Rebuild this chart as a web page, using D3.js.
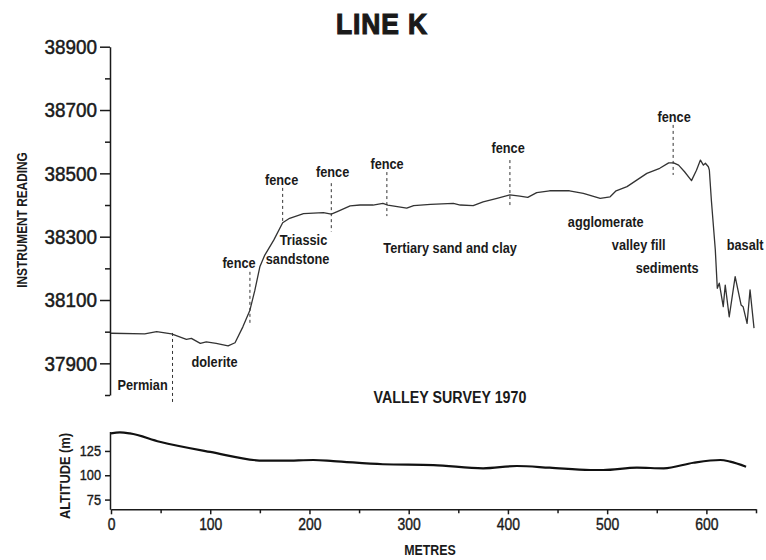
<!DOCTYPE html>
<html>
<head>
<meta charset="utf-8">
<script src="https://cdn.jsdelivr.net/npm/d3@7"></script>
<style>
  html, body { margin: 0; padding: 0; background: #ffffff; }
  svg { display: block; }
  text { font-family: "Liberation Sans", Arial, sans-serif; fill: #1a1a1a; }
</style>
</head>
<body>
<svg id="chart" width="766" height="560"></svg>
<script>
// ---------------- DATA ----------------
// Magnetometer reading along Line K (metres, instrument reading)
const readingMetres = [0, 34, 46, 61, 76, 81, 90, 96, 106, 118, 125, 133, 140, 145, 150, 155, 164, 173, 180, 194, 214, 222, 228, 241, 251, 264, 274, 279, 298, 305, 322, 345, 352, 365, 375, 389, 402, 412, 420, 429, 442, 462, 476, 493, 503, 509, 520, 540, 553, 562, 567, 572, 578, 585, 590, 594, 597, 599, 602, 603, 605, 609, 611, 613, 617, 619, 623, 629, 635, 637, 641, 644, 648];
const readingValues = [37995, 37993, 38000, 37993, 37976, 37979, 37963, 37968, 37963, 37955, 37965, 38016, 38068, 38131, 38205, 38242, 38289, 38344, 38358, 38373, 38376, 38371, 38379, 38397, 38400, 38400, 38405, 38400, 38390, 38398, 38402, 38405, 38400, 38398, 38410, 38421, 38432, 38428, 38424, 38439, 38445, 38445, 38437, 38421, 38426, 38445, 38458, 38500, 38516, 38533, 38533, 38526, 38505, 38477, 38510, 38542, 38526, 38532, 38521, 38510, 38416, 38258, 38137, 38153, 38079, 38147, 38047, 38174, 38084, 38079, 38026, 38132, 38011];

// Ground altitude profile (metres, altitude m)
const altitudeMetres = [0, 9, 19, 49, 100, 154, 174, 204, 224, 274, 325, 375, 409, 442, 483, 496, 530, 557, 587, 614, 624, 640];
const altitudeValues = [143, 144, 143, 134.5, 124, 115, 115, 115.7, 114.6, 111.3, 110.5, 107.1, 109.5, 107.8, 105.4, 105.4, 107.8, 107.1, 112.9, 115.7, 114, 108.8];

// Boundary / fence markers (metres, top and bottom reading of dashed line)
const markerMetres = [62, 140, 173, 222, 278, 402, 566.5];
const markerTop    = [37996, 38189, 38454, 38469, 38504, 38542, 38653];
const markerBottom = [37775, 38027, 38344, 38316, 38365, 38394, 38495];

// Annotation labels (text, metres, reading at baseline)
const labelTexts  = ["Permian", "dolerite", "fence", "Triassic", "sandstone", "fence", "fence", "fence", "Tertiary sand and clay", "fence", "agglomerate", "valley fill", "sediments", "fence", "basalt"];
const labelMetres = [31.8, 104.3, 129, 194, 188, 171.9, 223.3, 278.2, 341.7, 400.2, 498.5, 531.8, 560.5, 567.5, 639];
const labelValues = [37816, 37889, 38201, 38274, 38213, 38463, 38489, 38515, 38248, 38565, 38330, 38258, 38186, 38662, 38258];

// Tick values
const readingMajorTicks = [37900, 38100, 38300, 38500, 38700, 38900];
const readingMinorTicks = [37800, 38000, 38200, 38400, 38600, 38800];
const altitudeTicks = [75, 100, 125];
const metreMajorTicks = [0, 100, 200, 300, 400, 500, 600];
const metreMinorTicks = [50, 150, 250, 350, 450, 550, 650];

// ---------------- CHART ----------------
const svg = d3.select("#chart");

const x = d3.scaleLinear().domain([0, 650]).range([111, 756]);
const yTop = d3.scaleLinear().domain([37800, 38900]).range([395, 46.7]);
const yBot = d3.scaleLinear().domain([65, 145]).range([509.3, 431.5]);

// condensed-type helper: squeeze glyphs horizontally around their anchor
function placeText(sel, X, Y, sx, rot) {
  sel.attr("x", 0).attr("y", 0)
     .attr("transform", `translate(${X},${Y})` + (rot ? ` rotate(${rot})` : "") + ` scale(${sx},1)`);
  return sel;
}
function narrowAxisText(g, sx) {
  g.selectAll("text").each(function () {
    const t = d3.select(this);
    const xv = +t.attr("x") || 0;
    t.attr("x", xv / sx).attr("transform", `scale(${sx},1)`);
  });
}

// Title
placeText(svg.append("text"), 382, 33.5, 0.88)
  .attr("text-anchor", "middle")
  .style("font-size", "30px").style("font-weight", "bold")
  .attr("stroke", "#1a1a1a").attr("stroke-width", 1.2)
  .style("letter-spacing", "1px")
  .text("LINE K");

// Top y axis (major with labels)
const gTopMajor = svg.append("g")
  .attr("transform", "translate(110,0)")
  .call(d3.axisLeft(yTop).tickValues(readingMajorTicks).tickSize(10).tickSizeOuter(0).tickPadding(3).tickFormat(d3.format("d")));
gTopMajor.selectAll("text").style("font-size", "21px").attr("fill", "#1a1a1a")
  .attr("stroke", "#1a1a1a").attr("stroke-width", 0.5);
narrowAxisText(gTopMajor, 0.9);
gTopMajor.selectAll("line, path").attr("stroke", "#1a1a1a").attr("stroke-width", 1.5);

const gTopMinor = svg.append("g")
  .attr("transform", "translate(110,0)")
  .call(d3.axisLeft(yTop).tickValues(readingMinorTicks).tickSize(5).tickSizeOuter(0).tickFormat(""));
gTopMinor.select(".domain").remove();
gTopMinor.selectAll("line").attr("stroke", "#1a1a1a").attr("stroke-width", 1.5);

// Top y axis title
placeText(svg.append("text"), 27, 220, 0.79, -90)
  .attr("text-anchor", "middle")
  .style("font-size", "15px").style("font-weight", "bold")
  .text("INSTRUMENT READING");

// Dashed markers
svg.append("g").selectAll("line")
  .data(markerMetres)
  .join("line")
  .attr("x1", d => x(d)).attr("x2", d => x(d))
  .attr("y1", (d, i) => yTop(markerTop[i]))
  .attr("y2", (d, i) => yTop(markerBottom[i]))
  .attr("stroke", "#333")
  .attr("stroke-width", 1)
  .attr("stroke-dasharray", "3,3");

// Reading line
const readingLine = d3.line()
  .x((d, i) => x(readingMetres[i]))
  .y(d => yTop(d));
svg.append("path")
  .datum(readingValues)
  .attr("d", readingLine)
  .attr("fill", "none")
  .attr("stroke", "#333")
  .attr("stroke-width", 1.3)
  .attr("stroke-linejoin", "round");

// Annotation labels
svg.append("g").selectAll("text")
  .data(labelTexts)
  .join("text")
  .each(function (d, i) {
    placeText(d3.select(this), x(labelMetres[i]), yTop(labelValues[i]), 0.85);
  })
  .attr("text-anchor", "middle")
  .style("font-size", "15px").style("font-weight", "bold")
  .attr("fill", "#222")
  .text(d => d);

// Subtitle
placeText(svg.append("text"), 450, 402.7, 0.84)
  .attr("text-anchor", "middle")
  .style("font-size", "17px").style("font-weight", "bold")
  .text("VALLEY SURVEY 1970");

// Bottom y axis
const gBotY = svg.append("g")
  .attr("transform", "translate(110,0)")
  .call(d3.axisLeft(yBot).tickValues(altitudeTicks).tickSize(5).tickSizeOuter(0).tickPadding(4));
gBotY.selectAll("text").style("font-size", "14.5px").attr("fill", "#1a1a1a")
  .attr("stroke", "#1a1a1a").attr("stroke-width", 0.4);
narrowAxisText(gBotY, 0.88);
gBotY.selectAll("line, path").attr("stroke", "#1a1a1a").attr("stroke-width", 1.5);

placeText(svg.append("text"), 70, 476, 0.83, -90)
  .attr("text-anchor", "middle")
  .style("font-size", "15.5px").style("font-weight", "bold")
  .text("ALTITUDE (m)");

// Bottom x axis
const gX = svg.append("g")
  .attr("transform", "translate(0,509.3)")
  .call(d3.axisBottom(x).tickValues(metreMajorTicks).tickSize(5).tickSizeOuter(0).tickPadding(4));
gX.selectAll("text").style("font-size", "16px").attr("fill", "#1a1a1a")
  .attr("stroke", "#1a1a1a").attr("stroke-width", 0.4);
narrowAxisText(gX, 0.87);
gX.selectAll("line, path").attr("stroke", "#1a1a1a").attr("stroke-width", 1.5);

const gXMinor = svg.append("g")
  .attr("transform", "translate(0,509.3)")
  .call(d3.axisBottom(x).tickValues(metreMinorTicks).tickSize(4).tickSizeOuter(0).tickFormat(""));
gXMinor.select(".domain").remove();
gXMinor.selectAll("line").attr("stroke", "#1a1a1a").attr("stroke-width", 1.5);

placeText(svg.append("text"), 430, 555, 0.8)
  .attr("text-anchor", "middle")
  .style("font-size", "15.5px").style("font-weight", "bold")
  .text("METRES");

// Altitude line
const altLine = d3.line()
  .x((d, i) => x(altitudeMetres[i]))
  .y(d => yBot(d))
  .curve(d3.curveMonotoneX);
svg.append("path")
  .datum(altitudeValues)
  .attr("d", altLine)
  .attr("fill", "none")
  .attr("stroke", "#111")
  .attr("stroke-width", 2.2);
</script>
</body>
</html>
